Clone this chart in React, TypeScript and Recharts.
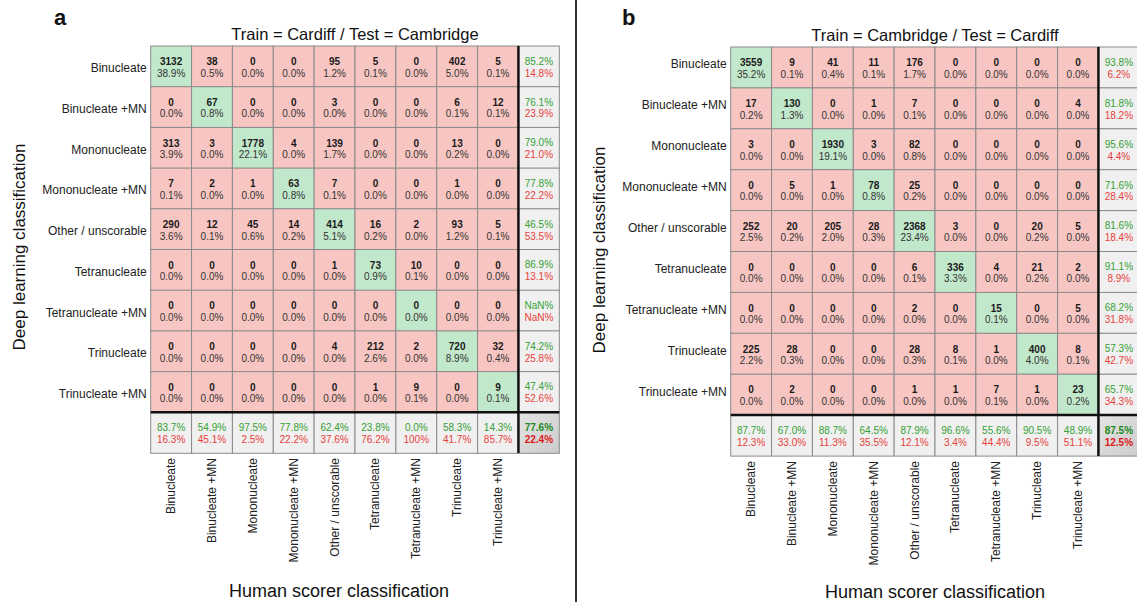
import { BarChart, Bar, XAxis, YAxis, ReferenceLine } from "recharts";

const FONT = '"Liberation Sans", Arial, Helvetica, sans-serif';

const classes = [
  "Binucleate",
  "Binucleate +MN",
  "Mononucleate",
  "Mononucleate +MN",
  "Other / unscorable",
  "Tetranucleate",
  "Tetranucleate +MN",
  "Trinucleate",
  "Trinucleate +MN",
];

// panel a: Train = Cardiff / Test = Cambridge (rows = deep learning, cols = human)
const countsA = [
  [3132, 38, 0, 0, 95, 5, 0, 402, 5],
  [0, 67, 0, 0, 3, 0, 0, 6, 12],
  [313, 3, 1778, 4, 139, 0, 0, 13, 0],
  [7, 2, 1, 63, 7, 0, 0, 1, 0],
  [290, 12, 45, 14, 414, 16, 2, 93, 5],
  [0, 0, 0, 0, 1, 73, 10, 0, 0],
  [0, 0, 0, 0, 0, 0, 0, 0, 0],
  [0, 0, 0, 0, 4, 212, 2, 720, 32],
  [0, 0, 0, 0, 0, 1, 9, 0, 9],
];
const pctA = [
  [38.9, 0.5, 0.0, 0.0, 1.2, 0.1, 0.0, 5.0, 0.1],
  [0.0, 0.8, 0.0, 0.0, 0.0, 0.0, 0.0, 0.1, 0.1],
  [3.9, 0.0, 22.1, 0.0, 1.7, 0.0, 0.0, 0.2, 0.0],
  [0.1, 0.0, 0.0, 0.8, 0.1, 0.0, 0.0, 0.0, 0.0],
  [3.6, 0.1, 0.6, 0.2, 5.1, 0.2, 0.0, 1.2, 0.1],
  [0.0, 0.0, 0.0, 0.0, 0.0, 0.9, 0.1, 0.0, 0.0],
  [0.0, 0.0, 0.0, 0.0, 0.0, 0.0, 0.0, 0.0, 0.0],
  [0.0, 0.0, 0.0, 0.0, 0.0, 2.6, 0.0, 8.9, 0.4],
  [0.0, 0.0, 0.0, 0.0, 0.0, 0.0, 0.1, 0.0, 0.1],
];
const rowOkA = ["85.2%", "76.1%", "79.0%", "77.8%", "46.5%", "86.9%", "NaN%", "74.2%", "47.4%"];
const rowErrA = ["14.8%", "23.9%", "21.0%", "22.2%", "53.5%", "13.1%", "NaN%", "25.8%", "52.6%"];
const colOkA = ["83.7%", "54.9%", "97.5%", "77.8%", "62.4%", "23.8%", "0.0%", "58.3%", "14.3%"];
const colErrA = ["16.3%", "45.1%", "2.5%", "22.2%", "37.6%", "76.2%", "100%", "41.7%", "85.7%"];
const totalA = ["77.6%", "22.4%"];

// panel b: Train = Cambridge / Test = Cardiff
const countsB = [
  [3559, 9, 41, 11, 176, 0, 0, 0, 0],
  [17, 130, 0, 1, 7, 0, 0, 0, 4],
  [3, 0, 1930, 3, 82, 0, 0, 0, 0],
  [0, 5, 1, 78, 25, 0, 0, 0, 0],
  [252, 20, 205, 28, 2368, 3, 0, 20, 5],
  [0, 0, 0, 0, 6, 336, 4, 21, 2],
  [0, 0, 0, 0, 2, 0, 15, 0, 5],
  [225, 28, 0, 0, 28, 8, 1, 400, 8],
  [0, 2, 0, 0, 1, 1, 7, 1, 23],
];
const pctB = [
  [35.2, 0.1, 0.4, 0.1, 1.7, 0.0, 0.0, 0.0, 0.0],
  [0.2, 1.3, 0.0, 0.0, 0.1, 0.0, 0.0, 0.0, 0.0],
  [0.0, 0.0, 19.1, 0.0, 0.8, 0.0, 0.0, 0.0, 0.0],
  [0.0, 0.0, 0.0, 0.8, 0.2, 0.0, 0.0, 0.0, 0.0],
  [2.5, 0.2, 2.0, 0.3, 23.4, 0.0, 0.0, 0.2, 0.0],
  [0.0, 0.0, 0.0, 0.0, 0.1, 3.3, 0.0, 0.2, 0.0],
  [0.0, 0.0, 0.0, 0.0, 0.0, 0.0, 0.1, 0.0, 0.0],
  [2.2, 0.3, 0.0, 0.0, 0.3, 0.1, 0.0, 4.0, 0.1],
  [0.0, 0.0, 0.0, 0.0, 0.0, 0.0, 0.1, 0.0, 0.2],
];
const rowOkB = ["93.8%", "81.8%", "95.6%", "71.6%", "81.6%", "91.1%", "68.2%", "57.3%", "65.7%"];
const rowErrB = ["6.2%", "18.2%", "4.4%", "28.4%", "18.4%", "8.9%", "31.8%", "42.7%", "34.3%"];
const colOkB = ["87.7%", "67.0%", "88.7%", "64.5%", "87.9%", "96.6%", "55.6%", "90.5%", "48.9%"];
const colErrB = ["12.3%", "33.0%", "11.3%", "35.5%", "12.1%", "3.4%", "44.4%", "9.5%", "51.1%"];
const totalB = ["87.5%", "12.5%"];

const GREEN_CELL = "#c2e8cb";
const RED_CELL = "#f8c6c2";
const GREY_CELL = "#f0f0f0";
const OK_TEXT = "#35a035";
const ERR_TEXT = "#e8403a";
const BORDER = "#8a8a8a";

// 9 classes + the summary column/row, each one unit wide
const colKeys = [...classes, "summary"].map((_, i) => `c${i}`);
const colTicks = classes.map((_, i) => i + 0.5);

function buildRows() {
  return [...classes, ""].map((label, i) => {
    const row: any = { key: `r${i}`, label, row: i };
    colKeys.forEach((k) => (row[k] = 1));
    return row;
  });
}

function Matrix(props: any) {
  const { id, counts, pcts, rowOk, rowErr, colOk, colErr, total, top, bottom, labelDy } = props;
  const rows = buildRows();
  const n = classes.length;

  const cellShape = (col: number) => (p: any) => {
    const { x, y, width: w, height: h } = p;
    const row = p.payload?.row ?? p.index;
    const cx = x + w / 2;
    if (row < n && col < n) {
      return (
        <g>
          <rect x={x} y={y} width={w} height={h} fill={row === col ? GREEN_CELL : RED_CELL} stroke={BORDER} strokeWidth={1} />
          <text x={cx} y={y + h * 0.47} textAnchor="middle" fontSize={10} fontWeight="bold" fill="#1a1a1a" fontFamily={FONT}>
            {counts[row][col]}
          </text>
          <text x={cx} y={y + h * 0.75} textAnchor="middle" fontSize={10} fill="#333" fontFamily={FONT}>
            {pcts[row][col].toFixed(1)}%
          </text>
        </g>
      );
    }
    let ok = "";
    let err = "";
    let fill = GREY_CELL;
    let corner = false;
    if (row < n) {
      ok = rowOk[row];
      err = rowErr[row];
    } else if (col < n) {
      ok = colOk[col];
      err = colErr[col];
    } else {
      ok = total[0];
      err = total[1];
      fill = `url(#tot-${id})`;
      corner = true;
    }
    return (
      <g>
        {corner && (
          <defs>
            <linearGradient id={`tot-${id}`} x1="0" y1="0" x2="1" y2="1">
              <stop offset="0%" stopColor="#e4e4e4" />
              <stop offset="100%" stopColor="#cbcbcb" />
            </linearGradient>
          </defs>
        )}
        <rect x={x} y={y} width={w} height={h} fill={fill} stroke={BORDER} strokeWidth={1} />
        <text x={cx} y={y + h * 0.46} textAnchor="middle" fontSize={10} fill={corner ? "#1b8a1b" : OK_TEXT} fontWeight={corner ? 600 : 400} fontFamily={FONT}>
          {ok}
        </text>
        <text x={cx} y={y + h * 0.75} textAnchor="middle" fontSize={10} fill={corner ? "#dd1a1a" : ERR_TEXT} fontWeight={corner ? 600 : 400} fontFamily={FONT}>
          {err}
        </text>
      </g>
    );
  };

  const RowTick = (p: any) => {
    const label = rows.find((r) => r.key === p.payload.value)?.label ?? "";
    return (
      <text x={p.x} y={p.y + labelDy} textAnchor="end" dominantBaseline="central" fontSize={12} fill="#222" fontFamily={FONT}>
        {label}
      </text>
    );
  };

  const ColTick = (p: any) => {
    const idx = Math.floor(p.payload.value);
    return (
      <text
        x={p.x}
        y={p.y}
        transform={`rotate(-90, ${p.x}, ${p.y})`}
        textAnchor="end"
        dominantBaseline="central"
        fontSize={12}
        fill="#222"
        fontFamily={FONT}
      >
        {classes[idx]}
      </text>
    );
  };

  return (
    <BarChart
      width={570}
      height={602}
      data={rows}
      layout="vertical"
      barCategoryGap={0}
      margin={{ top, right: 10.7, bottom, left: 10.7 }}
    >
      <XAxis
        type="number"
        domain={[0, 10]}
        ticks={colTicks}
        interval={0}
        tick={<ColTick />}
        axisLine={false}
        tickLine={false}
        tickSize={0}
        tickMargin={5}
        height={130}
      />
      <YAxis
        type="category"
        dataKey="key"
        width={140}
        interval={0}
        tick={<RowTick />}
        axisLine={false}
        tickLine={false}
        tickSize={0}
        tickMargin={4}
      />
      {colKeys.map((k, j) => (
        <Bar key={k} dataKey={k} stackId="m" isAnimationActive={false} shape={cellShape(j)} />
      ))}
      <ReferenceLine x={9} stroke="#111" strokeWidth={2.5} />
      <ReferenceLine y="r9" position="start" stroke="#111" strokeWidth={2.5} />
    </BarChart>
  );
}

export default function App() {
  return (
    <div
      style={{
        position: "absolute",
        left: 0,
        top: 0,
        width: 1137,
        height: 602,
        overflow: "hidden",
        background: "#fff",
        fontFamily: FONT,
      }}
    >
      <div style={{ position: "absolute", left: 0, top: 0 }}>
        <Matrix
          id="a"
          counts={countsA}
          pcts={pctA}
          rowOk={rowOkA}
          rowErr={rowErrA}
          colOk={colOkA}
          colErr={colErrA}
          total={totalA}
          top={46}
          bottom={19}
          labelDy={2}
        />
      </div>
      <div style={{ position: "absolute", left: 580, top: 0 }}>
        <Matrix
          id="b"
          counts={countsB}
          pcts={pctB}
          rowOk={rowOkB}
          rowErr={rowErrB}
          colOk={colOkB}
          colErr={colErrB}
          total={totalB}
          top={47}
          bottom={16}
          labelDy={-3}
        />
      </div>
      <svg width={1137} height={602} style={{ position: "absolute", left: 0, top: 0, pointerEvents: "none" }}>
        <line x1={576} y1={0} x2={576} y2={602} stroke="#333" strokeWidth={2} />
        <text x={54} y={25} fontSize={22} fontWeight="bold" fill="#111" fontFamily={FONT}>a</text>
        <text x={622} y={25} fontSize={22} fontWeight="bold" fill="#111" fontFamily={FONT}>b</text>
        <text x={355} y={40} textAnchor="middle" fontSize={16.5} fill="#111" fontFamily={FONT}>
          Train = Cardiff / Test = Cambridge
        </text>
        <text x={935} y={41} textAnchor="middle" fontSize={16.5} fill="#111" fontFamily={FONT}>
          Train = Cambridge / Test = Cardiff
        </text>
        <text x={339} y={597} textAnchor="middle" fontSize={18} fill="#111" fontFamily={FONT}>
          Human scorer classification
        </text>
        <text x={935} y={598} textAnchor="middle" fontSize={18} fill="#111" fontFamily={FONT}>
          Human scorer classification
        </text>
        <text x={19} y={247} transform="rotate(-90, 19, 247)" textAnchor="middle" dominantBaseline="central" fontSize={17} fill="#111" fontFamily={FONT}>
          Deep learning classification
        </text>
        <text x={599} y={250} transform="rotate(-90, 599, 250)" textAnchor="middle" dominantBaseline="central" fontSize={17} fill="#111" fontFamily={FONT}>
          Deep learning classification
        </text>
      </svg>
    </div>
  );
}
